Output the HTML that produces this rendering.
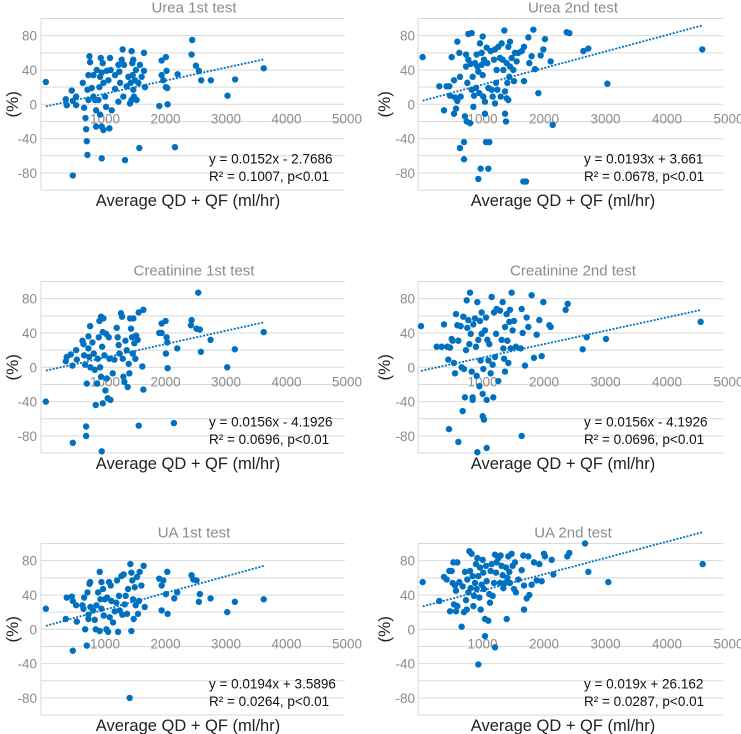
<!DOCTYPE html>
<html><head><meta charset="utf-8">
<style>
body{margin:0;background:#fff;}
svg{display:block;font-family:"Liberation Sans",sans-serif;}
</style></head>
<body>
<svg id="chart" width="741" height="734" viewBox="0 0 741 734" xmlns="http://www.w3.org/2000/svg"></svg>
<script>
const titles = ["Urea 1st test","Urea 2nd test","Creatinine 1st test","Creatinine 2nd test","UA 1st test","UA 2nd test"];
const equations = [["y = 0.0152x - 2.7686","R² = 0.1007, p<0.01"],["y = 0.0193x + 3.661","R² = 0.0678, p<0.01"],["y = 0.0156x - 4.1926","R² = 0.0696, p<0.01"],["y = 0.0156x - 4.1926","R² = 0.0696, p<0.01"],["y = 0.0194x + 3.5896","R² = 0.0264, p<0.01"],["y = 0.019x + 26.162","R² = 0.0287, p<0.01"]];
const slopes = [0.0152,0.0193,0.0156,0.0156,0.0194,0.019];
const intercepts = [-2.7686,3.661,-4.1926,-4.1926,3.5896,26.162];
const yTicks = [80,40,0,-40,-80];
const xTicks = [1000,2000,3000,4000,5000];
const gridVals = [100,80,60,40,20,0,-20,-40,-60,-80,-100];

const ureaA = [[22,26],[352,6],[368,-1],[451,16],[468,4],[523,9],[523,-1],[633,25],[655,-4],[677,-16],[688,-29],[699,-43],[710,-59],[468,-83],[743,56],[754,49],[726,34],[710,17],[726,5],[781,19],[809,9],[836,5],[853,-7],[853,-26],[891,5],[908,20],[919,32],[930,54],[946,37],[963,48],[974,25],[946,-26],[946,-63],[974,-30],[1001,9],[1018,-3],[1029,39],[1056,28],[1072,-28],[1083,54],[1094,40],[1111,-7],[1166,18],[1221,46],[1237,38],[1249,25],[1276,52],[1292,64],[1303,9],[1314,46],[1331,-65],[1358,21],[1386,32],[1413,1],[1440,62],[1451,48],[1457,34],[1468,17],[1479,9],[1496,28],[1512,40],[1523,5],[1551,25],[1568,-51],[1578,46],[1606,32],[1644,60],[1644,39],[1661,20],[1897,-2],[1936,51],[1936,34],[1963,28],[2007,55],[2018,39],[2007,20],[2029,19],[2035,0],[2156,-50],[2200,35],[2431,58],[2442,75],[2503,45],[2552,39],[2590,28],[2750,28],[3025,10],[3151,29],[3624,42],[1440,5],[1468,52],[1424,25],[1166,34],[1221,3],[809,34],[864,40],[919,-12]];
const ureaB = [[27,55],[298,21],[374,-7],[417,21],[461,21],[472,10],[499,55],[537,-11],[537,28],[553,8],[569,-5],[591,73],[591,4],[623,60],[634,32],[645,9],[699,-44],[699,-64],[634,-51],[715,-14],[732,58],[732,44],[743,-20],[753,25],[770,52],[770,82],[797,-22],[808,47],[824,83],[824,17],[840,32],[851,-3],[862,10],[878,48],[894,19],[905,58],[916,44],[932,-87],[932,38],[949,13],[959,71],[970,-75],[986,60],[986,46],[1003,79],[1003,34],[1013,9],[1024,52],[1040,-11],[1040,3],[1057,-44],[1068,66],[1078,48],[1095,19],[1095,-75],[1111,-44],[1133,62],[1149,17],[1165,9],[1187,52],[1203,64],[1203,1],[1220,25],[1230,40],[1241,17],[1257,67],[1284,54],[1295,9],[1311,71],[1328,52],[1339,40],[1355,86],[1366,-11],[1366,15],[1382,-20],[1393,7],[1393,48],[1404,25],[1420,5],[1420,67],[1436,32],[1447,44],[1447,73],[1474,54],[1501,40],[1512,27],[1528,60],[1555,50],[1582,60],[1637,62],[1664,-90],[1675,27],[1707,-90],[1675,67],[1745,78],[1761,48],[1799,56],[1827,87],[1854,41],[1908,13],[1946,57],[1989,64],[2016,76],[2108,50],[2141,-24],[2369,84],[2412,83],[2640,62],[2721,65],[3030,24],[4574,64]];
const creatA = [[22,-40],[352,7],[368,12],[435,15],[462,2],[523,20],[534,9],[627,31],[644,27],[655,14],[672,3],[699,-19],[688,-69],[688,-80],[468,-88],[726,36],[754,48],[726,22],[737,12],[759,0],[792,29],[814,16],[831,-3],[847,-44],[869,-19],[880,10],[897,35],[908,54],[919,0],[935,59],[935,-11],[952,24],[963,-42],[963,41],[974,57],[990,14],[1007,-27],[1018,39],[1029,-13],[1045,-36],[1062,35],[1073,10],[1090,-38],[1128,-7],[1155,9],[1194,46],[1210,35],[1226,26],[1238,16],[1265,63],[1282,59],[1293,10],[1304,-11],[1320,-17],[1337,31],[1359,20],[1375,-23],[1392,4],[1403,-7],[1414,57],[1430,45],[1447,35],[1458,16],[1469,57],[1485,28],[1502,10],[1513,37],[1540,32],[1557,64],[1634,67],[1634,-26],[1617,1],[1897,40],[1936,51],[1936,40],[2002,54],[2018,35],[2007,16],[2029,29],[2035,-1],[2139,-65],[2194,22],[1557,-68],[946,-98],[2431,55],[2420,49],[2541,87],[2513,45],[2568,44],[2585,18],[2745,32],[3020,0],[3146,21],[3624,41]];
const creatB = [[0,48],[255,24],[336,24],[374,50],[428,24],[444,9],[455,-72],[472,23],[499,33],[515,31],[537,5],[553,-7],[569,62],[591,49],[607,31],[607,-87],[645,48],[661,0],[678,-51],[688,59],[699,-2],[715,-35],[732,20],[743,78],[753,46],[770,55],[786,27],[797,87],[808,39],[824,-5],[840,-35],[840,-38],[851,50],[878,57],[894,24],[905,-10],[916,-99],[916,76],[932,32],[949,-22],[959,54],[970,8],[986,64],[986,39],[1003,-31],[1003,-57],[1013,-2],[1024,-61],[1040,43],[1057,58],[1068,-38],[1068,-94],[1078,32],[1095,8],[1111,27],[1133,-7],[1149,82],[1165,3],[1176,-35],[1187,64],[1203,12],[1220,39],[1230,68],[1257,-16],[1284,66],[1311,32],[1328,76],[1339,22],[1350,10],[1366,-5],[1366,47],[1393,62],[1404,31],[1420,5],[1436,53],[1447,67],[1458,22],[1474,87],[1490,43],[1512,54],[1544,24],[1620,22],[1637,-80],[1637,68],[1653,40],[1691,2],[1718,58],[1745,47],[1799,84],[1837,11],[1881,38],[1924,55],[1962,13],[1989,76],[2087,49],[2108,47],[2352,67],[2385,74],[2629,21],[2694,35],[3008,33],[4547,53]];
const uaA = [[22,24],[352,12],[368,37],[451,38],[468,-25],[468,33],[523,28],[534,9],[627,28],[644,24],[655,37],[672,0],[699,-19],[710,43],[726,17],[743,53],[754,55],[726,12],[759,26],[803,22],[831,11],[847,0],[858,28],[886,43],[913,67],[913,-2],[924,35],[941,55],[941,24],[968,47],[979,16],[996,35],[1023,0],[1034,37],[1051,-3],[1067,55],[1078,14],[1095,51],[1106,33],[1133,8],[1161,21],[1188,31],[1199,57],[1216,-3],[1232,39],[1243,22],[1271,62],[1287,17],[1309,64],[1326,29],[1342,39],[1364,18],[1381,47],[1408,-80],[1419,76],[1436,-2],[1436,66],[1452,57],[1463,35],[1474,12],[1491,49],[1507,28],[1529,61],[1546,18],[1562,33],[1573,67],[1601,51],[1639,74],[1656,26],[1897,59],[1936,22],[1936,51],[1964,57],[2007,41],[2029,67],[2035,18],[2145,36],[2194,43],[2431,63],[2459,58],[2513,57],[2552,32],[2568,41],[2745,36],[3020,20],[3146,32],[3624,35]];
const uaB = [[27,55],[298,33],[374,61],[417,58],[461,68],[472,21],[499,68],[515,54],[526,78],[537,29],[553,51],[569,21],[569,45],[591,78],[591,27],[623,55],[661,3],[678,50],[699,20],[715,67],[732,34],[743,23],[753,58],[770,43],[786,91],[797,68],[808,48],[824,88],[840,62],[851,27],[862,39],[878,54],[894,76],[905,47],[916,83],[932,-41],[932,62],[949,37],[959,72],[970,23],[986,52],[1003,81],[1013,66],[1024,47],[1040,-8],[1040,12],[1057,74],[1068,56],[1095,10],[1111,41],[1122,31],[1133,68],[1149,76],[1165,39],[1187,54],[1203,-21],[1203,87],[1220,66],[1230,78],[1257,83],[1284,54],[1295,86],[1311,74],[1328,63],[1339,48],[1366,54],[1382,72],[1393,12],[1404,60],[1420,85],[1436,67],[1447,54],[1474,88],[1490,74],[1512,47],[1528,78],[1544,43],[1582,58],[1637,69],[1664,86],[1675,51],[1675,23],[1718,36],[1745,85],[1761,40],[1799,52],[1837,78],[1881,57],[1924,76],[1962,56],[2000,88],[2016,85],[2125,81],[2152,64],[2379,85],[2412,89],[2667,100],[2721,67],[3046,55],[4580,76]];
const datasets = [ureaA, ureaB, creatA, creatB, uaA, uaB];

const NS = "http://www.w3.org/2000/svg";
const svg = document.getElementById('chart');
function mk(tag, attrs, parent){const e=document.createElementNS(NS,tag);for(const k in attrs)e.setAttribute(k,attrs[k]);parent.appendChild(e);return e;}

const colGeo = [{left:41,right:345,x0:44.5,k:0.0605,ylab:37,pct:13,title:194,axis:188,eq:209},
                {left:418,right:723,x0:421,k:0.0615,ylab:415,pct:385,title:573,axis:563,eq:584}];
const rowTop = [18.5,281.5,543.5];
const YK = 0.858;

for(let p=0;p<6;p++){
  const c = colGeo[p%2], top = rowTop[Math.floor(p/2)];
  const xs = v => c.x0 + v*c.k;
  const ys = v => top + (100 - v)*YK;
  const g = mk('g',{},svg);
  
  
  const grid = mk('g',{},g);
  
  
  gridVals.forEach(v=>{mk('line',{x1:c.left,x2:c.right,y1:ys(v),y2:ys(v),stroke:'#d9d9d9','stroke-width':1},grid);});
  const ax = mk('line',{x1:c.left,x2:c.left,y1:ys(100),y2:ys(-100),stroke:'#d9d9d9','stroke-width':1},g);
  
  
  yTicks.forEach(v=>{const t=mk('text',{x:c.ylab,y:ys(v)+5,'text-anchor':'end','font-size':13.5,fill:'#8c8c8c'},g);t.textContent=v;
    
    });
  xTicks.forEach(v=>{const t=mk('text',{x:xs(v),y:ys(0)+19,'text-anchor':'middle','font-size':13.5,fill:'#8c8c8c'},g);t.textContent=v;
    
    });
  const pts = mk('g',{},g);
  
  
  datasets[p].forEach(d=>{const ci=mk('circle',{cx:xs(d[0]),cy:ys(d[1]),r:3.2,fill:'#0070c0'},pts);
    
    });
  const xsVals = datasets[p].map(d=>d[0]);
  const mn = Math.min(...xsVals), mx = Math.max(...xsVals);
  const tl = mk('line',{x1:xs(mn),y1:ys(slopes[p]*mn+intercepts[p]),x2:xs(mx),y2:ys(slopes[p]*mx+intercepts[p]),stroke:'#0070c0','stroke-width':1.8,'stroke-dasharray':'2 1.5'},g);
  
  
  const tt = mk('text',{x:c.title,y:top-6,'text-anchor':'middle','font-size':15,fill:'#8c8c8c'},g);
  tt.textContent = titles[p];
  
  
  const yt = mk('text',{x:0,y:0,'text-anchor':'middle','font-size':17,fill:'#222',transform:`translate(${c.pct+5},${ys(0)}) rotate(-90)`},g);
  yt.textContent='(%)';
  
  
  const xt = mk('text',{x:c.axis,y:ys(-100)+16,'text-anchor':'middle','font-size':16.5,fill:'#222'},g);
  xt.textContent='Average QD + QF (ml/hr)';
  
  
  equations[p].forEach((s,i)=>{const e=mk('text',{x:c.eq,y:ys(0)+59+i*17.5,'font-size':13.5,fill:'#111'},g);e.textContent=s;
    
    });
}
</script>
</body></html>
